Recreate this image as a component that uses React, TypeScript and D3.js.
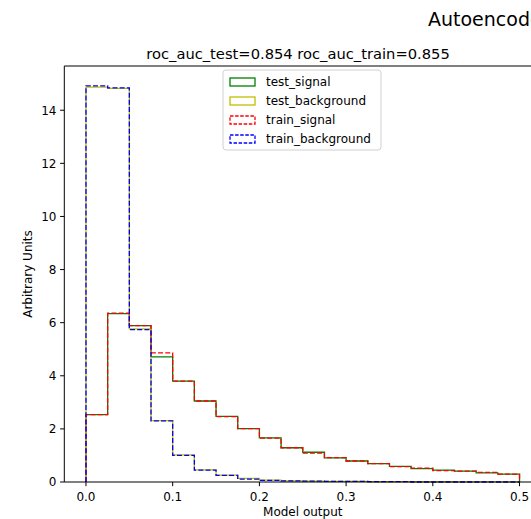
import React from "react";
import * as d3 from "d3";

const binEdges = [0, 0.025, 0.05, 0.075, 0.1, 0.125, 0.15, 0.175, 0.2, 0.225, 0.25, 0.275, 0.3, 0.325, 0.35, 0.375, 0.4, 0.425, 0.45, 0.475, 0.5];
const testSignal = [2.54, 6.34, 5.89, 4.71, 3.8, 3.05, 2.47, 2.01, 1.66, 1.29, 1.12, 0.91, 0.79, 0.69, 0.59, 0.5, 0.45, 0.41, 0.34, 0.3];
const testBackground = [14.87, 14.82, 5.77, 2.31, 1.02, 0.46, 0.26, 0.14, 0.07, 0.04, 0.03, 0.02, 0.02, 0.01, 0.01, 0.01, 0.01, 0.006, 0.006, 0.006];
const trainSignal = [2.54, 6.36, 5.89, 4.86, 3.8, 3.05, 2.46, 2.01, 1.65, 1.29, 1.09, 0.92, 0.79, 0.69, 0.58, 0.52, 0.43, 0.41, 0.36, 0.3];
const trainBackground = [14.92, 14.84, 5.74, 2.3, 1.0, 0.45, 0.25, 0.11, 0.06, 0.04, 0.03, 0.02, 0.02, 0.015, 0.015, 0, 0, 0, 0, 0];
const xTicks = [0.0, 0.1, 0.2, 0.3, 0.4, 0.5];
const yTicks = [0, 2, 4, 6, 8, 10, 12, 14];
const seriesNames = ["test_signal", "test_background", "train_signal", "train_background"];

const W = 531, H = 519;
const left = 64.3, right = 541.2, top = 66, bottom = 482;
const FONT = "DejaVu Sans, sans-serif";

export default function App() {
  const allMax = d3.max([...testSignal, ...testBackground, ...trainSignal, ...trainBackground]) as number;
  const x = d3.scaleLinear().domain([-0.025, 0.525]).range([left, right]);
  const y = d3.scaleLinear().domain([0, allMax * 1.05]).range([bottom, top]);

  const stepPath = (vals: number[]) => {
    const pts: [number, number][] = [];
    pts.push([binEdges[0], 0]);
    vals.forEach((v, i) => {
      pts.push([binEdges[i], v]);
      pts.push([binEdges[i + 1], v]);
    });
    pts.push([binEdges[binEdges.length - 1], 0]);
    const line = d3.line<[number, number]>().x((d) => x(d[0])).y((d) => y(d[1]));
    return line(pts) as string;
  };

  const series = [
    { name: seriesNames[0], vals: testSignal, color: "#008000", dash: undefined },
    { name: seriesNames[1], vals: testBackground, color: "#bfbf00", dash: undefined },
    { name: seriesNames[2], vals: trainSignal, color: "#ff0000", dash: "5,2.2" },
    { name: seriesNames[3], vals: trainBackground, color: "#0000ff", dash: "5,2.2" },
  ];

  const axisColor = "#000";
  const lx = 223, ly = 70, lw = 158, lh = 80;

  return (
    <div style={{ position: "fixed", left: 0, top: 0, width: W, height: H, background: "#fff" }}>
      <svg width={W} height={H} style={{ display: "block" }} fontFamily={FONT}>
        <rect x={0} y={0} width={W} height={H} fill="#fff" />
        <text x={428} y={25.7} fontSize={19} fill="#000">Autoencoder</text>
        <text x={298} y={58.5} fontSize={14.7} textAnchor="middle" fill="#000">
          roc_auc_test=0.854 roc_auc_train=0.855
        </text>

        {series.map((s) => (
          <path key={s.name} d={stepPath(s.vals)} fill="none" stroke={s.color} strokeWidth={1.3}
            strokeDasharray={s.dash} strokeLinejoin="miter" />
        ))}

        {/* spines */}
        <line x1={left} x2={right} y1={top} y2={top} stroke={axisColor} strokeWidth={1} />
        <line x1={left} x2={left} y1={top} y2={bottom} stroke={axisColor} strokeWidth={1} />
        <line x1={right} x2={right} y1={top} y2={bottom} stroke={axisColor} strokeWidth={1} />
        <line x1={left} x2={right} y1={bottom} y2={bottom} stroke={axisColor} strokeWidth={1} />

        {xTicks.map((t) => (
          <g key={"x" + t}>
            <line x1={x(t)} x2={x(t)} y1={bottom} y2={bottom + 4.2} stroke={axisColor} strokeWidth={1} />
            <text x={x(t)} y={501} fontSize={12} textAnchor="middle" fill="#000">{t.toFixed(1)}</text>
          </g>
        ))}
        {yTicks.map((t) => (
          <g key={"y" + t}>
            <line x1={left - 4.2} x2={left} y1={y(t)} y2={y(t)} stroke={axisColor} strokeWidth={1} />
            <text x={56.5} y={y(t) + 4.3} fontSize={12} textAnchor="end" fill="#000">{t}</text>
          </g>
        ))}

        <text x={(left + right) / 2} y={516} fontSize={12} textAnchor="middle" fill="#000">Model output</text>
        <text transform={`translate(32, ${(top + bottom) / 2}) rotate(-90)`} fontSize={12} textAnchor="middle" fill="#000">
          Arbitrary Units
        </text>

        {/* legend */}
        <rect x={lx} y={ly} width={lw} height={lh} rx={3} fill="#fff" fillOpacity={0.8} stroke="#d0d0d0" strokeWidth={1} />
        {series.map((s, i) => {
          const cy = 82 + i * 19;
          return (
            <g key={"leg" + s.name}>
              <rect x={230} y={cy - 4} width={25} height={8} fill="none" stroke={s.color} strokeWidth={1.3}
                strokeDasharray={s.dash ? "3.5,1.6" : undefined} />
              <text x={266} y={cy + 4.3} fontSize={12} fill="#000">{s.name}</text>
            </g>
          );
        })}
      </svg>
    </div>
  );
}
